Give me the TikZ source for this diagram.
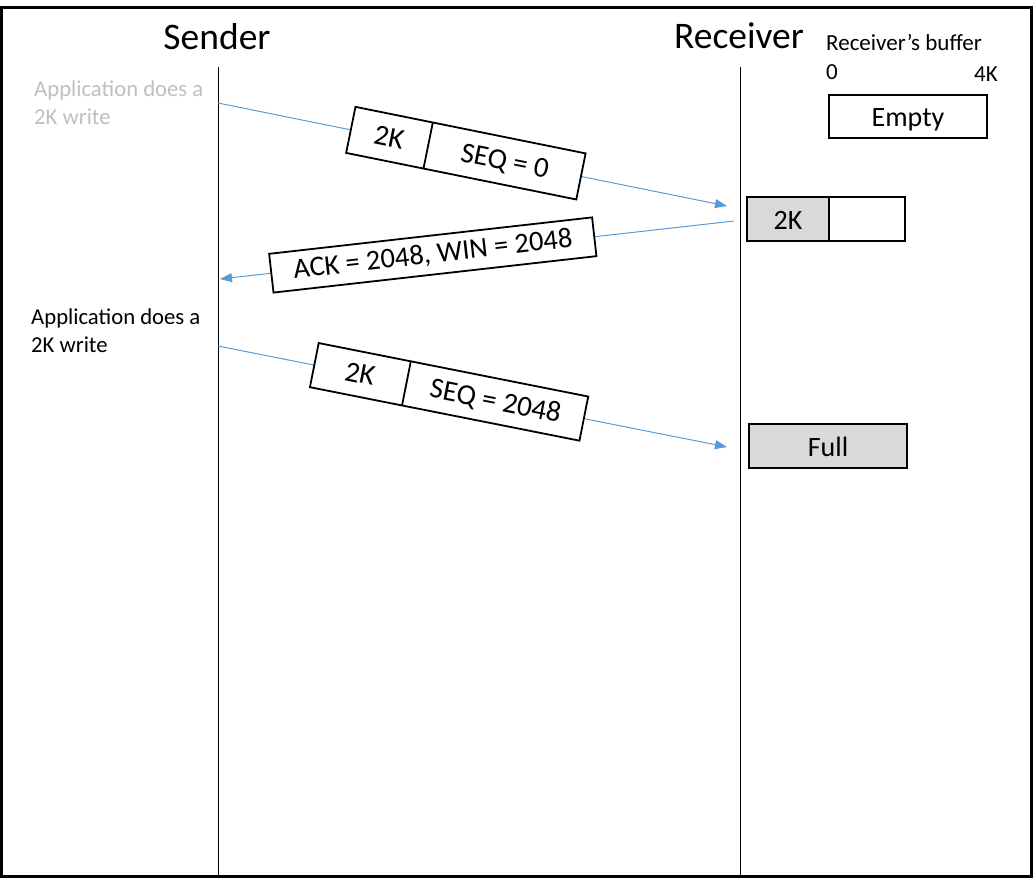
\documentclass[tikz,border=0pt]{standalone}
\usepackage{fontspec}
\setmainfont{Carlito}
\usetikzlibrary{shapes.multipart,arrows.meta}
\definecolor{msgblue}{HTML}{5B9BD5}
\definecolor{fadedtext}{HTML}{BFBFBF}
\definecolor{bufgray}{HTML}{D9D9D9}
% one cell of a segment: width, depth below baseline, total height, text
\newcommand{\pcell}[4]{\makebox[#1]{\rule[-#2]{0pt}{#3}#4}}
\begin{document}
\begin{tikzpicture}[x=1pt,y=-1pt,
  title/.style={font=\fontsize{37.5}{40}\selectfont, inner sep=0},
  note/.style={font=\fontsize{22.7}{28}\selectfont, align=left, anchor=west, inner sep=0},
  small/.style={font=\fontsize{23}{26}\selectfont, inner sep=0},
  lifeline/.style={line width=1pt},
  msg/.style={draw=msgblue, line width=1pt, -{Triangle[length=12pt,width=9pt]}},
  packet/.style={draw=black, fill=white, line width=1.8pt, rectangle split,
    rectangle split horizontal, rectangle split parts=2, inner xsep=0,
    inner ysep=0, font=\fontsize{29}{30}\selectfont, sloped},
  ackbox/.style={draw=black, fill=white, line width=1.8pt, inner sep=0,
    minimum width=325, minimum height=39, font=\fontsize{28.5}{30}\selectfont, sloped},
  bufbox/.style={draw, line width=1.8pt, inner sep=0, outer sep=0, minimum height=44,
    text height=24pt, text depth=4pt, font=\fontsize{28}{30}\selectfont},
]
\useasboundingbox (0,0) rectangle (1034,878);
\draw[line width=2.5pt] (1.5,7.5) rectangle (1031.5,876.5);

% titles
\node[title] (sender) at (217,37) {Sender};
\node[title] (receiver) at (739,36) {Receiver};

% lifelines
\coordinate (sTop) at (218,67);
\coordinate (sBot) at (218,877);
\coordinate (rTop) at (740,67);
\coordinate (rBot) at (740,877);
\draw[lifeline] (sTop) -- (sBot);
\draw[lifeline] (rTop) -- (rBot);

% application notes
\node[note, text=fadedtext] (app1) at (34,103) {Application does a\\2K write};
\node[note] (app2) at (31,331) {Application does a\\2K write};

% message end points
\coordinate (s1) at (218,103);
\coordinate (r1) at (727,206);
\coordinate (r2) at (734,221);
\coordinate (s2) at (220,279);
\coordinate (s3) at (218,346);
\coordinate (r3) at (727,447);

% first segment
\draw[msg] (s1) -- node[packet, pos=0.487] (p1)
  {\pcell{78pt}{14.5pt}{47pt}{2K}\nodepart{two}\pcell{155pt}{14.5pt}{47pt}{SEQ = 0}} (r1);
% acknowledgement
\draw[msg] (r2) -- node[ackbox, pos=0.586] (ack) {ACK = 2048, WIN = 2048} (s2);
% second segment
\draw[msg] (s3) -- node[packet, pos=0.454] (p2)
  {\pcell{93pt}{13.5pt}{45pt}{2K}\nodepart{two}\pcell{180pt}{13.5pt}{45pt}{SEQ = 2048}} (r3);

% receiver's buffer
\node[small, anchor=west] (buflabel) at (826,42) {Receiver’s buffer};
\node[small] (zero) at (832,72) {0};
\node[small] (four) at (986,74) {4K};
\node[bufbox, minimum width=158, minimum height=43] (empty) at (908,116.5) {Empty};
\node[bufbox, minimum width=76, anchor=west] (halffree) at (829,219) {};
\node[bufbox, fill=bufgray, minimum width=82, anchor=east] (half) at (halffree.west) {2K};
\node[bufbox, fill=bufgray, minimum width=158] (full) at (828,446) {Full};
\end{tikzpicture}
\end{document}
